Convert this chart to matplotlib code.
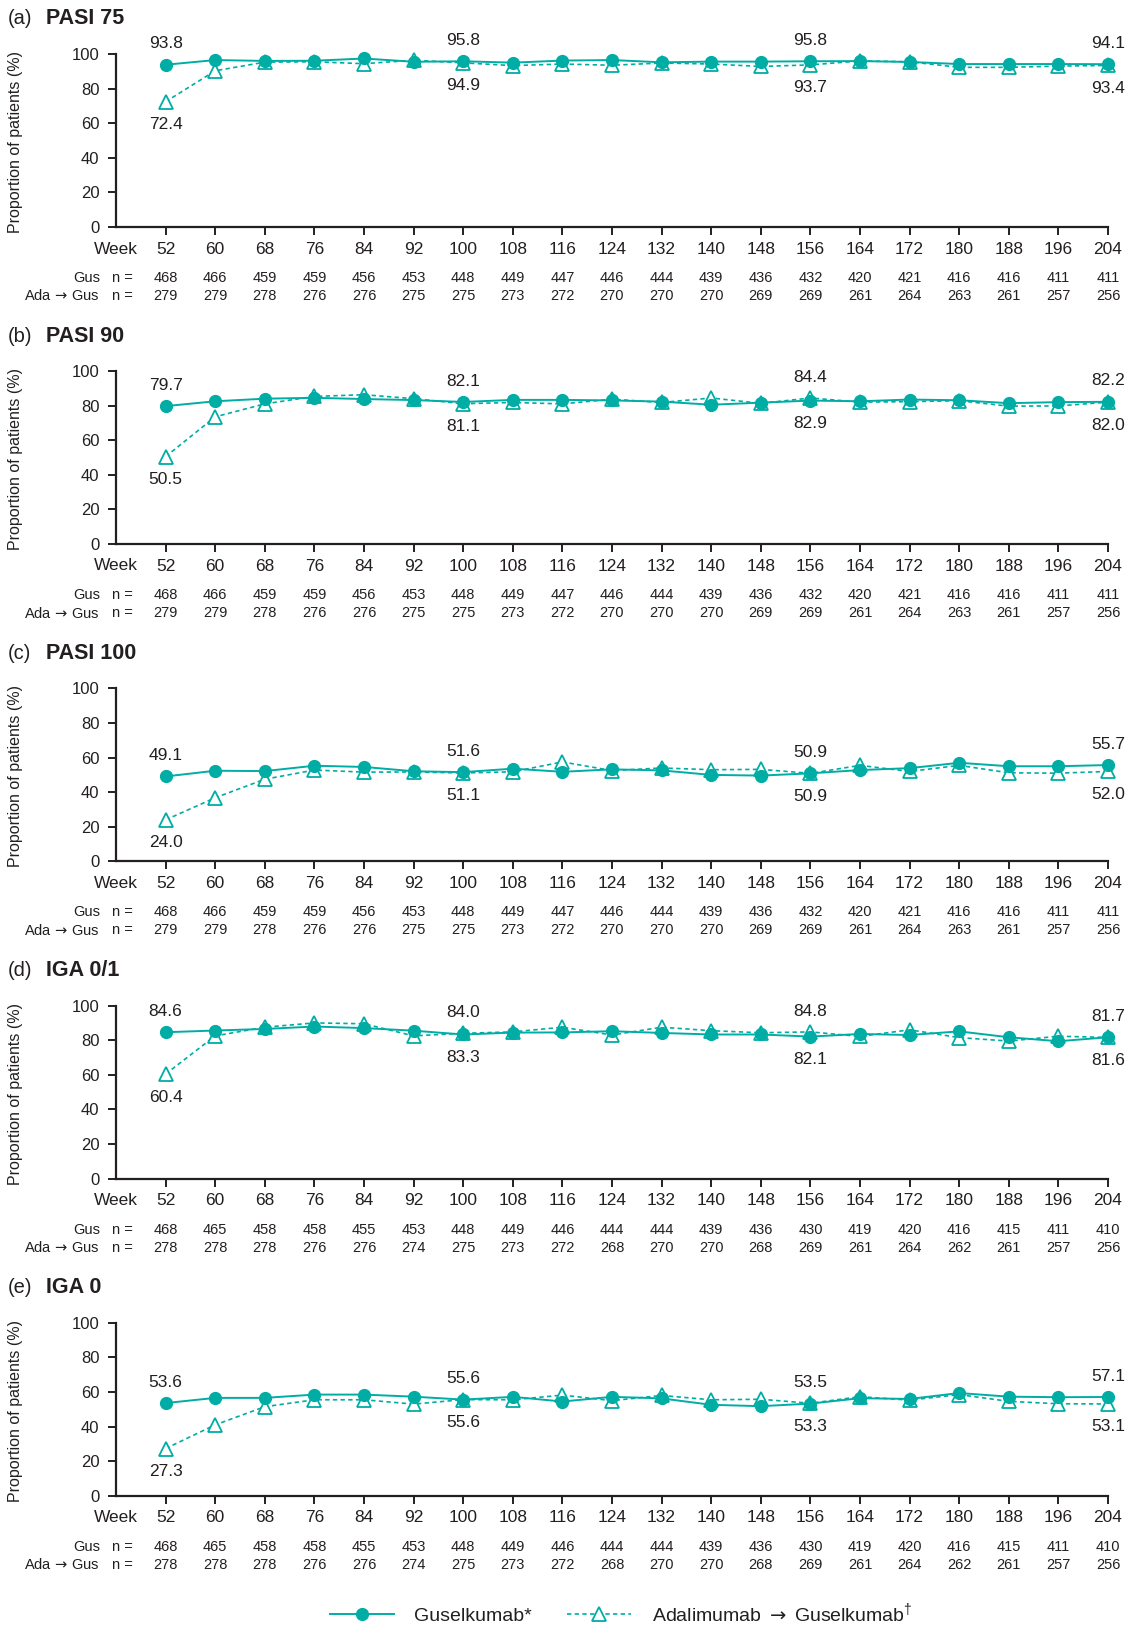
import matplotlib
matplotlib.use("Agg")
import matplotlib.pyplot as plt
from matplotlib.lines import Line2D
from matplotlib.transforms import blended_transform_factory

plt.rcParams['font.family'] = ['Liberation Sans', 'DejaVu Sans']
plt.rcParams['mathtext.fontset'] = 'custom'
plt.rcParams['mathtext.rm'] = 'Liberation Sans'
plt.rcParams['mathtext.it'] = 'Liberation Sans'
plt.rcParams['mathtext.sf'] = 'DejaVu Sans'

# ---------------- data ----------------
weeks = [52, 60, 68, 76, 84, 92, 100, 108, 116, 124, 132, 140, 148, 156, 164, 172, 180, 188, 196, 204]
label_weeks = [52, 100, 156, 204]

panel_letters = ["(a)", "(b)", "(c)", "(d)", "(e)"]
panel_titles = ["PASI 75", "PASI 90", "PASI 100", "IGA 0/1", "IGA 0"]

pasi75_gus = [93.8, 96.5, 96.0, 96.1, 97.4, 95.5, 95.8, 95.0, 96.2, 96.5, 95.2, 95.6, 95.6, 95.8, 95.9, 95.4, 94.2, 94.2, 94.2, 94.1]
pasi75_ada = [72.4, 90.3, 95.3, 95.5, 94.4, 96.4, 94.9, 93.3, 94.2, 93.5, 94.8, 94.2, 92.8, 93.7, 96.0, 95.5, 92.3, 92.3, 93.0, 93.4]

pasi90_gus = [79.7, 82.5, 84.0, 84.5, 83.8, 83.2, 82.1, 83.3, 83.3, 83.0, 82.3, 80.5, 81.7, 82.9, 82.5, 83.5, 83.1, 81.4, 82.0, 82.2]
pasi90_ada = [50.5, 73.5, 81.0, 85.3, 86.3, 84.0, 81.1, 81.8, 81.0, 83.7, 81.8, 84.4, 81.3, 84.4, 82.0, 82.3, 82.8, 79.7, 79.8, 82.0]

pasi100_gus = [49.1, 52.4, 52.2, 55.3, 54.6, 52.1, 51.6, 53.6, 51.8, 53.2, 52.6, 50.0, 49.6, 50.9, 52.8, 53.9, 57.0, 55.0, 55.0, 55.7]
pasi100_ada = [24.0, 36.8, 47.5, 52.8, 51.6, 51.7, 51.1, 51.8, 57.5, 52.5, 54.0, 53.0, 53.2, 50.9, 55.5, 52.0, 55.5, 51.2, 51.0, 52.0]

iga01_gus = [84.6, 85.6, 86.5, 87.9, 87.0, 85.5, 83.3, 84.4, 84.5, 85.2, 84.2, 83.3, 83.3, 82.1, 83.6, 83.0, 85.1, 81.7, 79.4, 81.7]
iga01_ada = [60.4, 82.5, 87.5, 90.0, 89.5, 82.5, 84.0, 84.8, 87.5, 83.0, 87.5, 85.5, 84.3, 84.8, 82.2, 86.0, 81.5, 79.5, 82.3, 81.6]

iga0_gus = [53.6, 56.6, 56.6, 58.5, 58.5, 57.3, 55.6, 57.2, 54.5, 57.2, 56.3, 52.6, 51.8, 53.3, 56.4, 56.0, 59.4, 57.3, 57.0, 57.1]
iga0_ada = [27.3, 41.0, 51.5, 55.5, 55.5, 53.0, 55.6, 55.5, 58.2, 55.0, 58.0, 55.5, 55.8, 53.5, 57.3, 55.3, 58.5, 54.6, 53.2, 53.1]

n_gus_pasi = [468, 466, 459, 459, 456, 453, 448, 449, 447, 446, 444, 439, 436, 432, 420, 421, 416, 416, 411, 411]
n_ada_pasi = [279, 279, 278, 276, 276, 275, 275, 273, 272, 270, 270, 270, 269, 269, 261, 264, 263, 261, 257, 256]
n_gus_iga = [468, 465, 458, 458, 455, 453, 448, 449, 446, 444, 444, 439, 436, 430, 419, 420, 416, 415, 411, 410]
n_ada_iga = [278, 278, 278, 276, 276, 274, 275, 273, 272, 268, 270, 270, 268, 269, 261, 264, 262, 261, 257, 256]

gus_series = [pasi75_gus, pasi90_gus, pasi100_gus, iga01_gus, iga0_gus]
ada_series = [pasi75_ada, pasi90_ada, pasi100_ada, iga01_ada, iga0_ada]
n_gus_series = [n_gus_pasi, n_gus_pasi, n_gus_pasi, n_gus_iga, n_gus_iga]
n_ada_series = [n_ada_pasi, n_ada_pasi, n_ada_pasi, n_ada_iga, n_ada_iga]

yticks = [0, 20, 40, 60, 80, 100]

# ---------------- style ----------------
TEAL = '#00ADA5'
DARK = '#231F20'
ARROW = r"$\mathsf{\rightarrow}$"
ARROW_SP = r"$\,\mathsf{\rightarrow}\,$"
W, H = 1131, 1625
fig = plt.figure(figsize=(W / 100, H / 100), dpi=100)

def fx(px):
    return px / W

def fy(py):
    return 1 - py / H

panel_tops = [54, 371, 688.4, 1005.6, 1322.8]
ax_h = 173
ax_left, ax_right = 116, 1108

for i in range(5):
    t = panel_tops[i]
    ax = fig.add_axes([fx(ax_left), fy(t + ax_h), (ax_right - ax_left) / W, ax_h / H])
    ax.set_xlim(44, 204)
    ax.set_ylim(0, 100)
    for s in ['top', 'right']:
        ax.spines[s].set_visible(False)
    for s in ['left', 'bottom']:
        ax.spines[s].set_linewidth(1.6)
        ax.spines[s].set_color(DARK)
    ax.set_yticks(yticks)
    ax.set_xticks(weeks)
    ax.set_xticklabels([str(w) for w in weeks])
    ax.tick_params(axis='y', direction='out', length=5.5, width=1.4, color=DARK,
                   labelsize=12, labelcolor=DARK, pad=6.5)
    ax.tick_params(axis='x', direction='out', length=5.5, width=1.4, color=DARK,
                   labelsize=12.5, labelcolor=DARK, pad=5)

    g = gus_series[i]
    a = ada_series[i]
    ax.plot(weeks, a, color=TEAL, lw=1.2, dashes=(2.6, 2.0), marker='^', ms=10,
            mfc='white', mec=TEAL, mew=1.3, clip_on=False, zorder=3)
    ax.plot(weeks, g, color=TEAL, lw=1.4, marker='o', ms=8.5, mfc=TEAL, mec=TEAL,
            clip_on=False, zorder=4)

    for w in label_weeks:
        k = weeks.index(w)
        gv, av = g[k], a[k]
        if gv >= av:
            hi, lo = gv, av
        else:
            hi, lo = av, gv
        ax.annotate(f"{hi:.1f}", xy=(w, hi), xytext=(0, 15), textcoords='offset points',
                    ha='center', va='center', fontsize=12.5, color=DARK, annotation_clip=False)
        ax.annotate(f"{lo:.1f}", xy=(w, lo), xytext=(0, -16.5), textcoords='offset points',
                    ha='center', va='center', fontsize=12.5, color=DARK, annotation_clip=False)

    # titles
    fig.text(fx(8), fy(t - 35), panel_letters[i], fontsize=14.5, color=DARK, ha='left', va='center')
    fig.text(fx(46), fy(t - 35), panel_titles[i], fontsize=15.5, color=DARK, ha='left',
             va='center', fontweight='bold')
    # y label
    fig.text(fx(16), fy(t + 88), "Proportion of patients (%)", rotation=90, fontsize=11.5,
             color=DARK, ha='center', va='center')
    # Week label
    fig.text(fx(116), fy(t + 195), "Week", fontsize=12.5, color=DARK,
             ha='center', va='center')
    # n rows
    tr = blended_transform_factory(ax.transData, fig.transFigure)
    fig.text(fx(100), fy(t + 224), "Gus", fontsize=10.5, color=DARK, ha='right', va='center')
    fig.text(fx(100), fy(t + 242), "Ada" + ARROW_SP + "Gus", fontsize=10.5, color=DARK,
             ha='right', va='center')
    fig.text(fx(133), fy(t + 224), "n =", fontsize=10.5, color=DARK, ha='right', va='center')
    fig.text(fx(133), fy(t + 242), "n =", fontsize=10.5, color=DARK, ha='right', va='center')
    for w, ng, na in zip(weeks, n_gus_series[i], n_ada_series[i]):
        ax.text(w, fy(t + 224), str(ng), transform=tr, fontsize=10.5, color=DARK,
                ha='center', va='center', clip_on=False)
        ax.text(w, fy(t + 242), str(na), transform=tr, fontsize=10.5, color=DARK,
                ha='center', va='center', clip_on=False)

# legend
h1 = Line2D([], [], color=TEAL, lw=1.4, marker='o', ms=8.5, mfc=TEAL, mec=TEAL)
h2 = Line2D([], [], color=TEAL, lw=1.2, dashes=(2.6, 2.0), marker='^', ms=10, mfc='white',
            mec=TEAL, mew=1.3)
leg = fig.legend([h1, h2], ["Guselkumab*", "Adalimumab " + ARROW + r" Guselkumab$^{\dagger}$"],
                 loc='center', bbox_to_anchor=(fx(621), fy(1613)), ncol=2, frameon=False,
                 fontsize=14, handlelength=3.3, handletextpad=1.05, columnspacing=1.8,
                 numpoints=1)
for txt in leg.get_texts():
    txt.set_color(DARK)

fig.savefig("out.png", dpi=100)
